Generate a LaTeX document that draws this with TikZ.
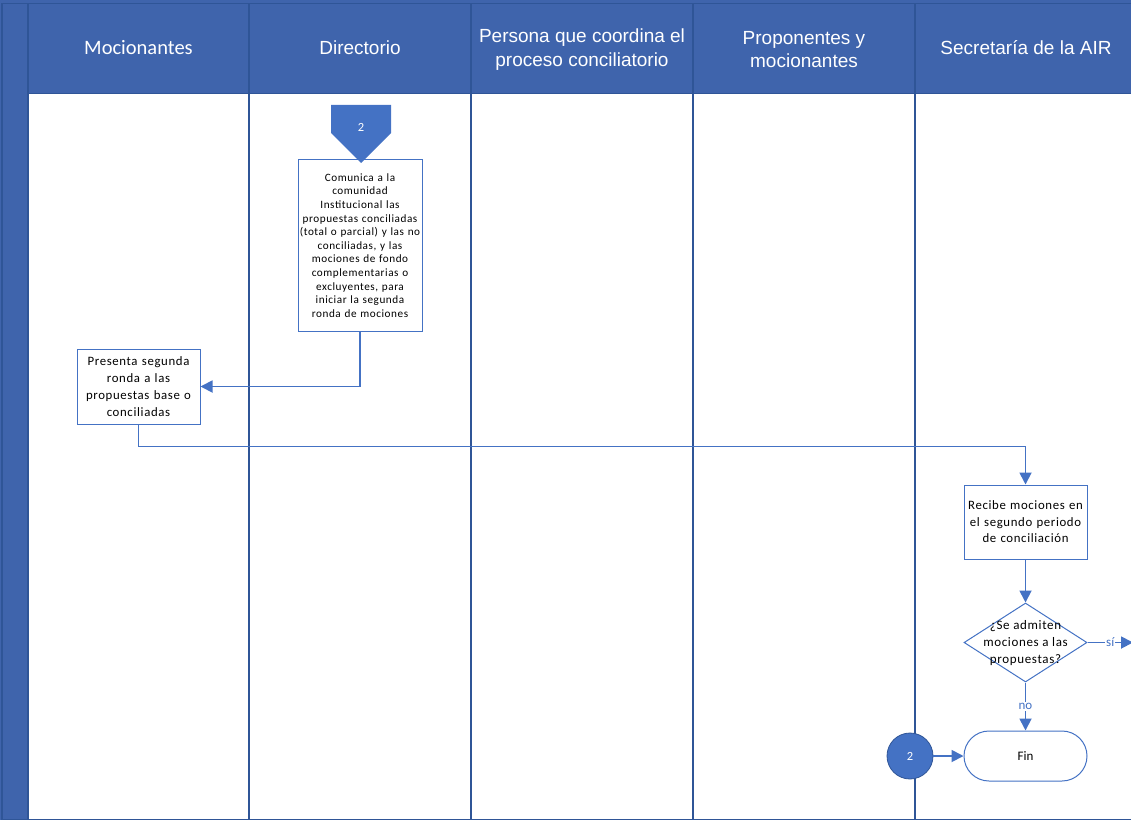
\documentclass[tikz,border=0pt]{standalone}
\usepackage{fontspec}
\setmainfont{Carlito}
\newfontfamily\arifont{Liberation Sans}
\newfontfamily\boxfont[LetterSpace=5]{Carlito}
\usetikzlibrary{arrows.meta,shapes.geometric,calc}
\definecolor{hdrblue}{HTML}{3F64AC}
\definecolor{lanedark}{HTML}{2F5597}
\definecolor{connblue}{HTML}{4472C4}
\tikzset{
  hdrtext/.style={text=white,align=center,font=\arifont\fontsize{19}{23.5}\selectfont},
  lanerule/.style={draw=lanedark,line width=1.4pt},
  procbox/.style={draw=connblue,line width=1pt,fill=white,align=center,inner sep=1pt},
  conn/.style={draw=connblue,line width=1.8pt,-{Triangle[length=12pt,width=12pt]}},
  lbl/.style={text=connblue,font=\fontsize{13}{14}\selectfont,fill=white,inner sep=1pt}
}
\begin{document}
\begin{tikzpicture}[x=1pt,y=-1pt]
\clip (0,0) rectangle (1131,821);
% header band and left band
\fill[hdrblue] (0,0) rectangle (1131,94);
\fill[hdrblue] (0,0) rectangle (28,820);
% frame lines
\draw[lanerule] (2,3.5) -- (1131,3.5);
\draw[lanerule] (2,3.5) -- (2,819.5);
\draw[lanerule] (28,3.5) -- (28,819.5);
\draw[lanerule] (2,819.5) -- (1131,819.5);
\draw[lanerule] (28,93.5) -- (1131,93.5);
\foreach \xx in {249,471,693,915} {\draw[lanerule] (\xx,3.5) -- (\xx,819.5);}
% headers
\node[hdrtext,font=\fontsize{20.5}{23}\selectfont] (h1) at (138.5,48) {Mocionantes};
\node[hdrtext] (h2) at (360,48) {Directorio};
\node[hdrtext] (h3) at (582,49.5) {Persona que coordina el\\proceso conciliatorio};
\node[hdrtext] (h4) at (804,49.5) {Proponentes y\\mocionantes};
\node[hdrtext] (h5) at (1026,48) {Secretaría de la AIR};
% boxes
\node[procbox,minimum width=124pt,minimum height=171pt,text width=122pt,font=\boxfont\fontsize{11.2}{13.6}\selectfont] (dir) at (360,245.5)
 {Comunica a la\\comunidad\\Institucional las\\propuestas conciliadas\\(total o parcial) y las no\\conciliadas, y las\\mociones de fondo\\complementarias o\\excluyentes, para\\iniciar la segunda\\ronda de mociones};
\node[procbox,minimum width=123pt,minimum height=75pt,text width=121pt,font=\boxfont\fontsize{12.8}{17}\selectfont] (pres) at (138.5,386.5)
 {Presenta segunda\\ronda a las\\propuestas base o\\conciliadas};
\node[procbox,minimum width=123pt,minimum height=74pt,text width=121pt,font=\boxfont\fontsize{12.8}{16.5}\selectfont] (rec) at (1025.5,522)
 {Recibe mociones en\\el segundo periodo\\de conciliación};
\node[draw=connblue,line width=1pt,fill=white,diamond,aspect=1.55,minimum width=123pt,minimum height=79pt,inner sep=0pt] (dec) at (1025.5,642.5) {};
\node[align=center,font=\boxfont\fontsize{13}{17}\selectfont] (dect) at (1025.5,643) {¿Se admiten\\mociones a las\\propuestas?};
\node[draw=connblue,line width=1pt,fill=white,rounded corners=25pt,minimum width=123pt,minimum height=50pt,font=\fontsize{13}{14}\selectfont] (fin) at (1025.5,756) {Fin};
% off-page connector
\fill[connblue] (331,105) -- (391,105) -- (391,133) -- (361,163) -- (331,133) -- cycle;
\node[text=white,font=\fontsize{12.5}{13}\selectfont] (off) at (361,127) {2};
% on-page connector circle
\node[circle,fill=connblue,draw=lanedark,line width=0.8pt,minimum size=46pt,inner sep=0pt,text=white,font=\fontsize{12.5}{13}\selectfont] (c2) at (910,756) {2};
% connectors
\draw[conn] (dir.south) |- (pres.east);
\coordinate (bend) at (1025.5,446.5);
\draw[conn] (pres.south) |- (bend) -- (rec.north);
\draw[conn] (rec.south) -- (dec.north);
\coordinate (offedge) at (1133,642.5);
\draw[conn] (dec.east) -- node[lbl,pos=0.5] (si) {sí} (offedge);
\draw[conn] (dec.south) -- node[lbl,pos=0.5] (no) {no} (fin.north);
\draw[conn] (c2.east) -- (fin.west);
\end{tikzpicture}
\end{document}
